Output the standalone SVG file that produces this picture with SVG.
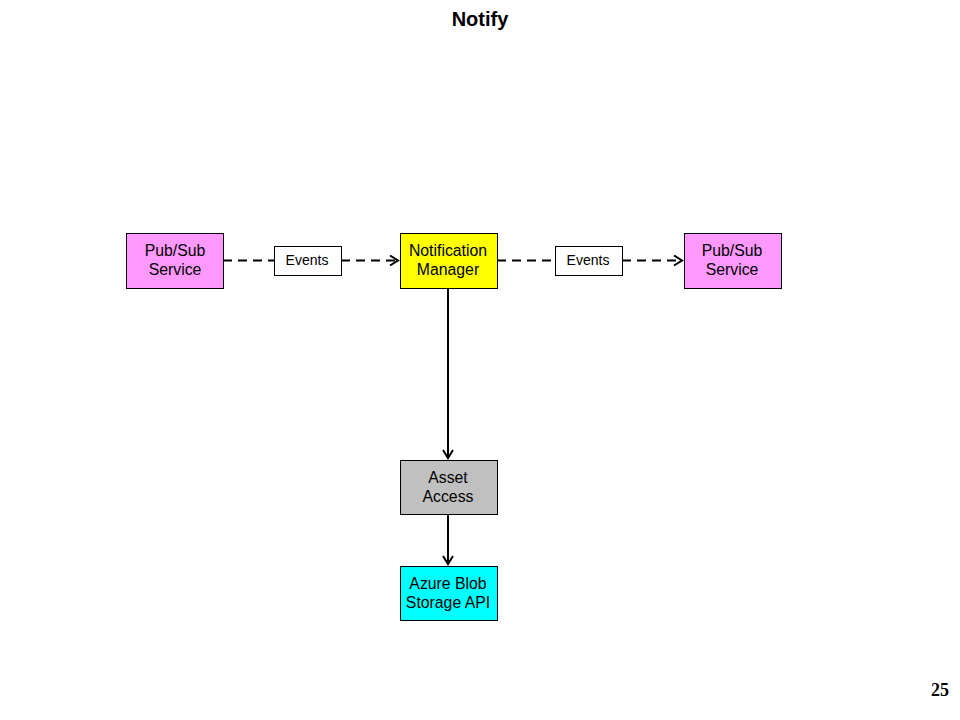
<svg xmlns="http://www.w3.org/2000/svg" width="960" height="720" viewBox="0 0 960 720">
<style>
.box{stroke:#000;stroke-width:1}
.t{font-family:"Liberation Sans",Arial,sans-serif;font-size:15.8px;text-anchor:middle;fill:#000}
.lbl{font-family:"Liberation Sans",Arial,sans-serif;font-size:14px;text-anchor:middle;fill:#000}
.c{fill:none;stroke:#000;stroke-width:2}
.d{stroke-dasharray:9 6}
</style>
<defs>
<marker id="ah" markerWidth="12" markerHeight="12" refX="10" refY="6" orient="auto" markerUnits="userSpaceOnUse">
<path d="M2,1 L10,6 L2,11" fill="none" stroke="#000" stroke-width="2"/>
</marker>
</defs>
<rect width="960" height="720" fill="#fff"/>
<text x="480" y="26" font-family="'Liberation Sans',Arial,sans-serif" font-size="20" font-weight="bold" text-anchor="middle">Notify</text>
<text x="940" y="696" font-family="'Liberation Serif','Times New Roman',serif" font-size="18" font-weight="bold" text-anchor="middle">25</text>
<g id="connectors">
<path class="c d" d="M223,260.5 H274"/>
<path class="c d" d="M341,260.5 H398" marker-end="url(#ah)"/>
<path class="c d" d="M497,260.5 H555"/>
<path class="c d" d="M622,260.5 H682" marker-end="url(#ah)"/>
<path class="c" d="M448,288 V458" marker-end="url(#ah)"/>
<path class="c" d="M448,514 V564" marker-end="url(#ah)"/>
</g>
<g id="pubsub-left">
<rect class="box" x="126.5" y="233.5" width="97" height="55" fill="#ff99ff"/>
<text class="t" x="175" y="256">Pub/Sub</text>
<text class="t" x="175" y="275">Service</text>
</g>
<g id="events-1">
<rect class="box" x="274.5" y="246.5" width="67" height="29" fill="#fff"/>
<text class="lbl" x="307" y="265">Events</text>
</g>
<g id="notification-manager">
<rect class="box" x="400.5" y="233.5" width="97" height="55" fill="#ffff00"/>
<text class="t" x="448" y="256">Notification</text>
<text class="t" x="448" y="275">Manager</text>
</g>
<g id="events-2">
<rect class="box" x="555.5" y="246.5" width="67" height="29" fill="#fff"/>
<text class="lbl" x="588" y="265">Events</text>
</g>
<g id="pubsub-right">
<rect class="box" x="684.5" y="233.5" width="97" height="55" fill="#ff99ff"/>
<text class="t" x="732" y="256">Pub/Sub</text>
<text class="t" x="732" y="275">Service</text>
</g>
<g id="asset-access">
<rect class="box" x="400.5" y="460.5" width="97" height="54" fill="#c0c0c0"/>
<text class="t" x="448" y="483">Asset</text>
<text class="t" x="448" y="502">Access</text>
</g>
<g id="azure-blob">
<rect class="box" x="400.5" y="566.5" width="97" height="54" fill="#00ffff"/>
<text class="t" x="448" y="589">Azure Blob</text>
<text class="t" x="448" y="608">Storage API</text>
</g>
</svg>
